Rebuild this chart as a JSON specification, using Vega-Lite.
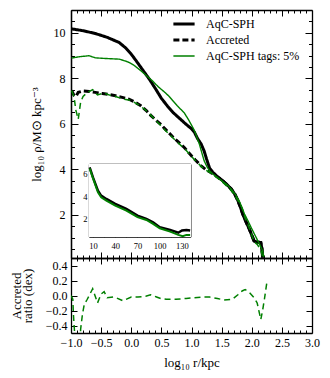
{
  "$schema": "https://vega.github.io/schema/vega-lite/v6.json",
  "padding": {"left": 10, "top": 9, "right": 5, "bottom": 5},
  "background": "white",
  "width": 241,
  "height": 323,
  "datasets": {
    "prof": [
      {"s": "AqC-SPH", "x": -0.99, "y": 10.17}, {"s": "AqC-SPH", "x": -0.8, "y": 10.09}, {"s": "AqC-SPH", "x": -0.6, "y": 9.97}, {"s": "AqC-SPH", "x": -0.4, "y": 9.8}, {"s": "AqC-SPH", "x": -0.2, "y": 9.57}, {"s": "AqC-SPH", "x": -0.1, "y": 9.35}, {"s": "AqC-SPH", "x": 0.0, "y": 9.06}, {"s": "AqC-SPH", "x": 0.1, "y": 8.7}, {"s": "AqC-SPH", "x": 0.2, "y": 8.33}, {"s": "AqC-SPH", "x": 0.3, "y": 7.96}, {"s": "AqC-SPH", "x": 0.4, "y": 7.55}, {"s": "AqC-SPH", "x": 0.5, "y": 7.12}, {"s": "AqC-SPH", "x": 0.6, "y": 6.78}, {"s": "AqC-SPH", "x": 0.7, "y": 6.48}, {"s": "AqC-SPH", "x": 0.8, "y": 6.24}, {"s": "AqC-SPH", "x": 0.9, "y": 6.0}, {"s": "AqC-SPH", "x": 1.0, "y": 5.78}, {"s": "AqC-SPH", "x": 1.05, "y": 5.62}, {"s": "AqC-SPH", "x": 1.1, "y": 5.35}, {"s": "AqC-SPH", "x": 1.16, "y": 5.11}, {"s": "AqC-SPH", "x": 1.21, "y": 4.8}, {"s": "AqC-SPH", "x": 1.25, "y": 4.45}, {"s": "AqC-SPH", "x": 1.3, "y": 4.05}, {"s": "AqC-SPH", "x": 1.35, "y": 3.88}, {"s": "AqC-SPH", "x": 1.42, "y": 3.7}, {"s": "AqC-SPH", "x": 1.52, "y": 3.49}, {"s": "AqC-SPH", "x": 1.6, "y": 3.3}, {"s": "AqC-SPH", "x": 1.66, "y": 3.13}, {"s": "AqC-SPH", "x": 1.72, "y": 2.9}, {"s": "AqC-SPH", "x": 1.77, "y": 2.62}, {"s": "AqC-SPH", "x": 1.81, "y": 2.35}, {"s": "AqC-SPH", "x": 1.85, "y": 2.03}, {"s": "AqC-SPH", "x": 1.9, "y": 1.72}, {"s": "AqC-SPH", "x": 1.96, "y": 1.37}, {"s": "AqC-SPH", "x": 2.0, "y": 1.1}, {"s": "AqC-SPH", "x": 2.04, "y": 0.84}, {"s": "AqC-SPH", "x": 2.09, "y": 0.8}, {"s": "AqC-SPH", "x": 2.15, "y": 0.78}, {"s": "AqC-SPH", "x": 2.17, "y": 0.5}, {"s": "AqC-SPH", "x": 2.18, "y": 0.12},
      {"s": "Accreted", "x": -0.99, "y": 7.46}, {"s": "Accreted", "x": -0.95, "y": 7.25}, {"s": "Accreted", "x": -0.92, "y": 7.2}, {"s": "Accreted", "x": -0.88, "y": 7.38}, {"s": "Accreted", "x": -0.8, "y": 7.44}, {"s": "Accreted", "x": -0.7, "y": 7.42}, {"s": "Accreted", "x": -0.6, "y": 7.38}, {"s": "Accreted", "x": -0.48, "y": 7.33}, {"s": "Accreted", "x": -0.36, "y": 7.28}, {"s": "Accreted", "x": -0.26, "y": 7.23}, {"s": "Accreted", "x": -0.15, "y": 7.16}, {"s": "Accreted", "x": -0.04, "y": 7.08}, {"s": "Accreted", "x": 0.06, "y": 6.95}, {"s": "Accreted", "x": 0.16, "y": 6.79}, {"s": "Accreted", "x": 0.25, "y": 6.58}, {"s": "Accreted", "x": 0.32, "y": 6.38}, {"s": "Accreted", "x": 0.4, "y": 6.18}, {"s": "Accreted", "x": 0.49, "y": 5.97}, {"s": "Accreted", "x": 0.58, "y": 5.72}, {"s": "Accreted", "x": 0.68, "y": 5.45}, {"s": "Accreted", "x": 0.78, "y": 5.2}, {"s": "Accreted", "x": 0.88, "y": 4.96}, {"s": "Accreted", "x": 0.97, "y": 4.68}, {"s": "Accreted", "x": 1.06, "y": 4.42}, {"s": "Accreted", "x": 1.16, "y": 4.15}, {"s": "Accreted", "x": 1.24, "y": 3.98}, {"s": "Accreted", "x": 1.32, "y": 3.86}, {"s": "Accreted", "x": 1.42, "y": 3.68}, {"s": "Accreted", "x": 1.52, "y": 3.49}, {"s": "Accreted", "x": 1.6, "y": 3.3}, {"s": "Accreted", "x": 1.66, "y": 3.13}, {"s": "Accreted", "x": 1.72, "y": 2.9}, {"s": "Accreted", "x": 1.77, "y": 2.62}, {"s": "Accreted", "x": 1.81, "y": 2.35}, {"s": "Accreted", "x": 1.85, "y": 2.03}, {"s": "Accreted", "x": 1.9, "y": 1.72}, {"s": "Accreted", "x": 1.96, "y": 1.37}, {"s": "Accreted", "x": 2.0, "y": 1.1}, {"s": "Accreted", "x": 2.04, "y": 0.84}, {"s": "Accreted", "x": 2.09, "y": 0.8}, {"s": "Accreted", "x": 2.15, "y": 0.78}, {"s": "Accreted", "x": 2.17, "y": 0.5}, {"s": "Accreted", "x": 2.18, "y": 0.12},
      {"s": "AqC-SPH tags: 5%", "x": -0.99, "y": 8.89}, {"s": "AqC-SPH tags: 5%", "x": -0.85, "y": 8.95}, {"s": "AqC-SPH tags: 5%", "x": -0.7, "y": 8.99}, {"s": "AqC-SPH tags: 5%", "x": -0.6, "y": 8.9}, {"s": "AqC-SPH tags: 5%", "x": -0.5, "y": 8.88}, {"s": "AqC-SPH tags: 5%", "x": -0.35, "y": 8.86}, {"s": "AqC-SPH tags: 5%", "x": -0.2, "y": 8.84}, {"s": "AqC-SPH tags: 5%", "x": -0.1, "y": 8.76}, {"s": "AqC-SPH tags: 5%", "x": -0.04, "y": 8.7}, {"s": "AqC-SPH tags: 5%", "x": 0.05, "y": 8.56}, {"s": "AqC-SPH tags: 5%", "x": 0.16, "y": 8.33}, {"s": "AqC-SPH tags: 5%", "x": 0.25, "y": 8.12}, {"s": "AqC-SPH tags: 5%", "x": 0.35, "y": 7.89}, {"s": "AqC-SPH tags: 5%", "x": 0.45, "y": 7.62}, {"s": "AqC-SPH tags: 5%", "x": 0.55, "y": 7.4}, {"s": "AqC-SPH tags: 5%", "x": 0.63, "y": 7.2}, {"s": "AqC-SPH tags: 5%", "x": 0.69, "y": 7.01}, {"s": "AqC-SPH tags: 5%", "x": 0.76, "y": 6.8}, {"s": "AqC-SPH tags: 5%", "x": 0.82, "y": 6.64}, {"s": "AqC-SPH tags: 5%", "x": 0.88, "y": 6.48}, {"s": "AqC-SPH tags: 5%", "x": 0.95, "y": 6.18}, {"s": "AqC-SPH tags: 5%", "x": 1.0, "y": 5.94}, {"s": "AqC-SPH tags: 5%", "x": 1.05, "y": 5.69}, {"s": "AqC-SPH tags: 5%", "x": 1.13, "y": 5.11}, {"s": "AqC-SPH tags: 5%", "x": 1.21, "y": 4.37}, {"s": "AqC-SPH tags: 5%", "x": 1.26, "y": 4.1}, {"s": "AqC-SPH tags: 5%", "x": 1.3, "y": 3.93}, {"s": "AqC-SPH tags: 5%", "x": 1.36, "y": 3.78}, {"s": "AqC-SPH tags: 5%", "x": 1.43, "y": 3.64}, {"s": "AqC-SPH tags: 5%", "x": 1.52, "y": 3.46}, {"s": "AqC-SPH tags: 5%", "x": 1.6, "y": 3.3}, {"s": "AqC-SPH tags: 5%", "x": 1.66, "y": 3.13}, {"s": "AqC-SPH tags: 5%", "x": 1.73, "y": 2.88}, {"s": "AqC-SPH tags: 5%", "x": 1.79, "y": 2.62}, {"s": "AqC-SPH tags: 5%", "x": 1.84, "y": 2.3}, {"s": "AqC-SPH tags: 5%", "x": 1.88, "y": 2.03}, {"s": "AqC-SPH tags: 5%", "x": 1.94, "y": 1.72}, {"s": "AqC-SPH tags: 5%", "x": 1.99, "y": 1.44}, {"s": "AqC-SPH tags: 5%", "x": 2.05, "y": 1.12}, {"s": "AqC-SPH tags: 5%", "x": 2.1, "y": 0.86}, {"s": "AqC-SPH tags: 5%", "x": 2.14, "y": 0.65}, {"s": "AqC-SPH tags: 5%", "x": 2.18, "y": 0.42}, {"s": "AqC-SPH tags: 5%", "x": 2.2, "y": 0.15},
      {"s": "tags accreted", "x": -0.99, "y": 7.46}, {"s": "tags accreted", "x": -0.95, "y": 7.2}, {"s": "tags accreted", "x": -0.92, "y": 6.6}, {"s": "tags accreted", "x": -0.88, "y": 6.2}, {"s": "tags accreted", "x": -0.84, "y": 6.95}, {"s": "tags accreted", "x": -0.8, "y": 7.2}, {"s": "tags accreted", "x": -0.73, "y": 7.37}, {"s": "tags accreted", "x": -0.64, "y": 7.5}, {"s": "tags accreted", "x": -0.56, "y": 7.27}, {"s": "tags accreted", "x": -0.45, "y": 7.35}, {"s": "tags accreted", "x": -0.36, "y": 7.26}, {"s": "tags accreted", "x": -0.26, "y": 7.2}, {"s": "tags accreted", "x": -0.14, "y": 7.09}, {"s": "tags accreted", "x": 0.0, "y": 7.02}, {"s": "tags accreted", "x": 0.11, "y": 6.85}, {"s": "tags accreted", "x": 0.24, "y": 6.6}, {"s": "tags accreted", "x": 0.32, "y": 6.39}, {"s": "tags accreted", "x": 0.42, "y": 6.11}, {"s": "tags accreted", "x": 0.49, "y": 5.93}, {"s": "tags accreted", "x": 0.58, "y": 5.67}, {"s": "tags accreted", "x": 0.74, "y": 5.25}, {"s": "tags accreted", "x": 0.91, "y": 4.84}, {"s": "tags accreted", "x": 1.05, "y": 4.42}, {"s": "tags accreted", "x": 1.19, "y": 4.05}, {"s": "tags accreted", "x": 1.3, "y": 3.86}, {"s": "tags accreted", "x": 1.43, "y": 3.62}, {"s": "tags accreted", "x": 1.54, "y": 3.38}, {"s": "tags accreted", "x": 1.68, "y": 3.0}, {"s": "tags accreted", "x": 1.77, "y": 2.63}, {"s": "tags accreted", "x": 1.84, "y": 2.3}, {"s": "tags accreted", "x": 1.89, "y": 1.85}, {"s": "tags accreted", "x": 1.96, "y": 1.41}, {"s": "tags accreted", "x": 2.04, "y": 0.81}, {"s": "tags accreted", "x": 2.09, "y": 0.7}, {"s": "tags accreted", "x": 2.15, "y": 0.46}, {"s": "tags accreted", "x": 2.18, "y": 0.15}
    ],
    "ratio": [
      {"x": -1.0, "y": 0.0}, {"x": -0.97, "y": -0.05}, {"x": -0.96, "y": -0.25}, {"x": -0.94, "y": -0.5}, {"x": -0.88, "y": -1.1}, {"x": -0.84, "y": -0.45}, {"x": -0.81, "y": -0.25}, {"x": -0.78, "y": -0.12}, {"x": -0.73, "y": -0.05}, {"x": -0.64, "y": 0.09}, {"x": -0.56, "y": -0.1}, {"x": -0.5, "y": 0.02}, {"x": -0.45, "y": 0.05}, {"x": -0.4, "y": -0.03}, {"x": -0.3, "y": -0.02}, {"x": -0.25, "y": -0.03}, {"x": -0.14, "y": -0.07}, {"x": 0.0, "y": -0.02}, {"x": 0.11, "y": -0.02}, {"x": 0.24, "y": -0.01}, {"x": 0.32, "y": 0.01}, {"x": 0.42, "y": -0.02}, {"x": 0.49, "y": -0.04}, {"x": 0.58, "y": -0.05}, {"x": 0.74, "y": -0.05}, {"x": 0.91, "y": -0.04}, {"x": 1.05, "y": -0.03}, {"x": 1.19, "y": -0.02}, {"x": 1.3, "y": -0.02}, {"x": 1.43, "y": -0.04}, {"x": 1.54, "y": -0.06}, {"x": 1.68, "y": -0.05}, {"x": 1.77, "y": 0.01}, {"x": 1.84, "y": 0.06}, {"x": 1.89, "y": 0.08}, {"x": 1.96, "y": 0.04}, {"x": 2.04, "y": -0.03}, {"x": 2.09, "y": -0.1}, {"x": 2.15, "y": -0.32}, {"x": 2.18, "y": -0.2}, {"x": 2.21, "y": -0.05}, {"x": 2.25, "y": 0.17}
    ],
    "inset": [
      {"s": "AqC-SPH", "r": 5.5, "y": 6.6}, {"s": "AqC-SPH", "r": 10, "y": 5.7}, {"s": "AqC-SPH", "r": 16.7, "y": 4.5}, {"s": "AqC-SPH", "r": 21, "y": 4.05}, {"s": "AqC-SPH", "r": 28, "y": 3.75}, {"s": "AqC-SPH", "r": 40, "y": 3.3}, {"s": "AqC-SPH", "r": 55, "y": 2.85}, {"s": "AqC-SPH", "r": 70, "y": 2.25}, {"s": "AqC-SPH", "r": 82, "y": 1.95}, {"s": "AqC-SPH", "r": 91, "y": 1.65}, {"s": "AqC-SPH", "r": 100, "y": 1.2}, {"s": "AqC-SPH", "r": 114, "y": 0.95}, {"s": "AqC-SPH", "r": 125, "y": 0.7}, {"s": "AqC-SPH", "r": 130, "y": 0.9}, {"s": "AqC-SPH", "r": 136, "y": 0.95}, {"s": "AqC-SPH", "r": 141, "y": 0.9},
      {"s": "AqC-SPH tags: 5%", "r": 5.5, "y": 6.5}, {"s": "AqC-SPH tags: 5%", "r": 10, "y": 5.6}, {"s": "AqC-SPH tags: 5%", "r": 16.7, "y": 4.35}, {"s": "AqC-SPH tags: 5%", "r": 21, "y": 3.9}, {"s": "AqC-SPH tags: 5%", "r": 28, "y": 3.6}, {"s": "AqC-SPH tags: 5%", "r": 40, "y": 3.15}, {"s": "AqC-SPH tags: 5%", "r": 55, "y": 2.7}, {"s": "AqC-SPH tags: 5%", "r": 70, "y": 2.1}, {"s": "AqC-SPH tags: 5%", "r": 82, "y": 1.85}, {"s": "AqC-SPH tags: 5%", "r": 91, "y": 1.5}, {"s": "AqC-SPH tags: 5%", "r": 100, "y": 1.1}, {"s": "AqC-SPH tags: 5%", "r": 114, "y": 0.8}, {"s": "AqC-SPH tags: 5%", "r": 125, "y": 0.5}, {"s": "AqC-SPH tags: 5%", "r": 131, "y": 0.38}, {"s": "AqC-SPH tags: 5%", "r": 136, "y": 0.5}, {"s": "AqC-SPH tags: 5%", "r": 141, "y": 0.5}
    ]
  },
  "resolve": {"scale": {"x": "independent", "y": "independent"}, "axis": {"x": "independent", "y": "independent"}},
  "layer": [
    {
      "resolve": {"scale": {"y": "independent"}, "axis": {"x": "independent", "y": "independent"}},
      "layer": [
        {
          "resolve": {"axis": {"x": "independent", "y": "independent"}},
          "layer": [
            {
              "mark": {"type": "rule", "color": "#b8b8b8", "strokeDash": [1.5, 3], "strokeWidth": 1},
              "encoding": {"x": {"datum": -0.14, "type": "quantitative", "scale": {"domain": [-1, 3], "nice": false, "zero": false},
                "axis": {"orient": "bottom", "offset": -75, "title": null, "labels": false, "values": [-1,-0.9,-0.8,-0.7,-0.6,-0.5,-0.4,-0.3,-0.2,-0.1,0,0.1,0.2,0.3,0.4,0.5,0.6,0.7,0.8,0.9,1,1.1,1.2,1.3,1.4,1.5,1.6,1.7,1.8,1.9,2,2.1,2.2,2.3,2.4,2.5,2.6,2.7,2.8,2.9,3],
                  "tickSize": {"condition": {"test": "abs(datum.value*2 - round(datum.value*2)) < 0.01", "value": -6}, "value": -3}}}}
            },
            {
              "data": {"name": "prof"},
              "transform": [{"filter": "datum.s == 'AqC-SPH'"}],
              "mark": {"type": "line", "clip": true, "strokeWidth": 3},
              "encoding": {
                "x": {"field": "x", "type": "quantitative", "scale": {"domain": [-1, 3], "nice": false, "zero": false},
                  "axis": {"orient": "top", "title": null, "labels": false, "values": [-1,-0.9,-0.8,-0.7,-0.6,-0.5,-0.4,-0.3,-0.2,-0.1,0,0.1,0.2,0.3,0.4,0.5,0.6,0.7,0.8,0.9,1,1.1,1.2,1.3,1.4,1.5,1.6,1.7,1.8,1.9,2,2.1,2.2,2.3,2.4,2.5,2.6,2.7,2.8,2.9,3],
                    "tickSize": {"condition": {"test": "abs(datum.value*2 - round(datum.value*2)) < 0.01", "value": -6}, "value": -3}}},
                "y": {"field": "y", "type": "quantitative", "scale": {"domain": [0.1, 11], "range": [248, 0], "nice": false, "zero": false},
                  "axis": {"orient": "left", "title": "log₁₀ ρ/M⊙ kpc⁻³", "values": [2, 4, 6, 8, 10], "format": "d", "ticks": false, "labelPadding": 6, "titlePadding": 10}},
                "color": {"field": "s", "type": "nominal", "scale": {"domain": ["AqC-SPH", "Accreted", "AqC-SPH tags: 5%"], "range": ["black", "black", "#008000"]},
                  "legend": {"title": null, "orient": "none", "legendX": 107, "legendY": 8, "rowPadding": 4, "labelOffset": 16, "symbolSize": 450, "encode": {"symbols": {"update": {"strokeWidth": {"signal": "datum.value === 'AqC-SPH tags: 5%' ? 1.4 : 3"}}}}}},
                "strokeDash": {"field": "s", "type": "nominal", "scale": {"domain": ["AqC-SPH", "Accreted", "AqC-SPH tags: 5%"], "range": [[1, 0], [6, 3], [1, 0]]},
                  "legend": {"title": null, "orient": "none", "legendX": 107, "legendY": 8, "rowPadding": 4, "labelOffset": 16, "symbolSize": 450, "encode": {"symbols": {"update": {"strokeWidth": {"signal": "datum.value === 'AqC-SPH tags: 5%' ? 1.4 : 3"}}}}}}
              }
            },
            {
              "data": {"name": "prof"},
              "transform": [{"filter": "datum.s == 'Accreted'"}],
              "mark": {"type": "line", "clip": true, "strokeWidth": 3},
              "encoding": {
                "x": {"field": "x", "type": "quantitative", "scale": {"domain": [-1, 3], "nice": false, "zero": false}, "axis": null},
                "y": {"field": "y", "type": "quantitative", "scale": {"domain": [0.1, 11], "range": [248, 0], "nice": false, "zero": false},
                  "axis": {"orient": "right", "title": null, "labels": false, "values": [0.5,1,1.5,2,2.5,3,3.5,4,4.5,5,5.5,6,6.5,7,7.5,8,8.5,9,9.5,10,10.5],
                    "tickSize": {"condition": {"test": "abs(datum.value/2 - round(datum.value/2)) < 0.01", "value": -7}, "value": -3.5}}},
                "color": {"field": "s", "type": "nominal", "scale": {"domain": ["AqC-SPH", "Accreted", "AqC-SPH tags: 5%"], "range": ["black", "black", "#008000"]},
                  "legend": {"title": null, "orient": "none", "legendX": 107, "legendY": 8, "rowPadding": 4, "labelOffset": 16, "symbolSize": 450, "encode": {"symbols": {"update": {"strokeWidth": {"signal": "datum.value === 'AqC-SPH tags: 5%' ? 1.4 : 3"}}}}}},
                "strokeDash": {"field": "s", "type": "nominal", "scale": {"domain": ["AqC-SPH", "Accreted", "AqC-SPH tags: 5%"], "range": [[1, 0], [6, 3], [1, 0]]},
                  "legend": {"title": null, "orient": "none", "legendX": 107, "legendY": 8, "rowPadding": 4, "labelOffset": 16, "symbolSize": 450, "encode": {"symbols": {"update": {"strokeWidth": {"signal": "datum.value === 'AqC-SPH tags: 5%' ? 1.4 : 3"}}}}}}
              }
            },
            {
              "data": {"name": "prof"},
              "transform": [{"filter": "datum.s == 'AqC-SPH tags: 5%'"}],
              "mark": {"type": "line", "clip": true, "strokeWidth": 1.4},
              "encoding": {
                "x": {"field": "x", "type": "quantitative", "scale": {"domain": [-1, 3], "nice": false, "zero": false}, "axis": null},
                "y": {"field": "y", "type": "quantitative", "scale": {"domain": [0.1, 11], "range": [248, 0], "nice": false, "zero": false},
                  "axis": {"orient": "left", "title": null, "labels": false, "values": [0.5,1,1.5,2,2.5,3,3.5,4,4.5,5,5.5,6,6.5,7,7.5,8,8.5,9,9.5,10,10.5],
                    "tickSize": {"condition": {"test": "abs(datum.value/2 - round(datum.value/2)) < 0.01", "value": -7}, "value": -3.5}}},
                "color": {"field": "s", "type": "nominal", "scale": {"domain": ["AqC-SPH", "Accreted", "AqC-SPH tags: 5%"], "range": ["black", "black", "#008000"]},
                  "legend": {"title": null, "orient": "none", "legendX": 107, "legendY": 8, "rowPadding": 4, "labelOffset": 16, "symbolSize": 450, "encode": {"symbols": {"update": {"strokeWidth": {"signal": "datum.value === 'AqC-SPH tags: 5%' ? 1.4 : 3"}}}}}},
                "strokeDash": {"field": "s", "type": "nominal", "scale": {"domain": ["AqC-SPH", "Accreted", "AqC-SPH tags: 5%"], "range": [[1, 0], [6, 3], [1, 0]]},
                  "legend": {"title": null, "orient": "none", "legendX": 107, "legendY": 8, "rowPadding": 4, "labelOffset": 16, "symbolSize": 450, "encode": {"symbols": {"update": {"strokeWidth": {"signal": "datum.value === 'AqC-SPH tags: 5%' ? 1.4 : 3"}}}}}}
              }
            },
            {
              "data": {"name": "prof"},
              "transform": [{"filter": "datum.s == 'tags accreted'"}],
              "mark": {"type": "line", "clip": true, "color": "#008000", "strokeDash": [6, 4], "strokeWidth": 1.5},
              "encoding": {
                "x": {"field": "x", "type": "quantitative", "scale": {"domain": [-1, 3], "nice": false, "zero": false}, "axis": null},
                "y": {"field": "y", "type": "quantitative", "scale": {"domain": [0.1, 11], "range": [248, 0], "nice": false, "zero": false}, "axis": null}
              }
            }
          ]
        },
        {
          "resolve": {"axis": {"x": "independent", "y": "independent"}},
          "layer": [
            {
              "mark": {"type": "rule", "color": "#b8b8b8", "strokeDash": [1.5, 3], "strokeWidth": 1},
              "encoding": {"y": {"datum": 0, "type": "quantitative", "scale": {"domain": [-0.5, 0.5], "range": [323, 248], "nice": false, "zero": false},
                "axis": {"orient": "right", "title": null, "labels": false, "values": [-0.4,-0.2,0,0.2,0.4], "tickSize": -6}}}
            },
            {
              "mark": {"type": "rule", "color": "#b8b8b8", "strokeDash": [1.5, 3], "strokeWidth": 1},
              "encoding": {"y": {"datum": 0, "type": "quantitative", "scale": {"domain": [-0.5, 0.5], "range": [323, 248], "nice": false, "zero": false},
                "axis": {"orient": "left", "title": null, "labels": false, "values": [-0.4,-0.2,0,0.2,0.4], "tickSize": -6}}}
            },
            {
              "mark": {"type": "rule", "color": "#b8b8b8", "strokeDash": [1.5, 3], "strokeWidth": 1},
              "encoding": {"x": {"datum": -0.14, "type": "quantitative", "scale": {"domain": [-1, 3], "nice": false, "zero": false},
                "axis": {"orient": "top", "offset": -248, "title": null, "labels": false, "values": [-1,-0.9,-0.8,-0.7,-0.6,-0.5,-0.4,-0.3,-0.2,-0.1,0,0.1,0.2,0.3,0.4,0.5,0.6,0.7,0.8,0.9,1,1.1,1.2,1.3,1.4,1.5,1.6,1.7,1.8,1.9,2,2.1,2.2,2.3,2.4,2.5,2.6,2.7,2.8,2.9,3],
                  "tickSize": {"condition": {"test": "abs(datum.value*2 - round(datum.value*2)) < 0.01", "value": -6}, "value": -3}}}}
            },
            {
              "mark": {"type": "rule", "color": "#b8b8b8", "strokeDash": [1.5, 3], "strokeWidth": 1},
              "encoding": {"x": {"datum": -0.14, "type": "quantitative", "scale": {"domain": [-1, 3], "nice": false, "zero": false},
                "axis": {"orient": "bottom", "title": null, "labels": false, "values": [-1,-0.9,-0.8,-0.7,-0.6,-0.5,-0.4,-0.3,-0.2,-0.1,0,0.1,0.2,0.3,0.4,0.5,0.6,0.7,0.8,0.9,1,1.1,1.2,1.3,1.4,1.5,1.6,1.7,1.8,1.9,2,2.1,2.2,2.3,2.4,2.5,2.6,2.7,2.8,2.9,3],
                  "tickSize": {"condition": {"test": "abs(datum.value*2 - round(datum.value*2)) < 0.01", "value": -6}, "value": -3}}}}
            },
            {
              "data": {"name": "ratio"},
              "mark": {"type": "line", "color": "#008000", "strokeDash": [6, 4], "strokeWidth": 1.5, "clip": true},
              "encoding": {
                "x": {"field": "x", "type": "quantitative", "scale": {"domain": [-1, 3], "nice": false, "zero": false},
                  "axis": {"orient": "bottom", "title": "log₁₀ r/kpc", "values": [-1,-0.5,0,0.5,1,1.5,2,2.5,3], "format": ".1f", "ticks": false, "domain": false, "labelPadding": 4, "titlePadding": 8}},
                "y": {"field": "y", "type": "quantitative", "scale": {"domain": [-0.5, 0.5], "range": [323, 248], "nice": false, "zero": false},
                  "axis": {"orient": "left", "title": ["Accreted", "ratio (dex)"], "values": [-0.4,-0.2,0,0.2,0.4], "format": ".1f", "ticks": false, "domain": false, "labelPadding": 4, "titlePadding": 11}}
              }
            }
          ]
        }
      ]
    },
    {
      "resolve": {"axis": {"x": "independent", "y": "independent"}},
      "data": {"name": "inset"},
      "layer": [
        {
          "mark": {"type": "rect", "fill": "white"},
          "encoding": {
            "x": {"datum": 4.6, "type": "quantitative", "scale": {"domain": [4.6, 141.2], "range": [18, 119.3], "nice": false, "zero": false},
              "axis": {"orient": "bottom", "offset": -96.3, "title": null, "labels": false, "values": [10,25,40,55,70,85,100,115,130], "tickSize": -3}},
            "x2": {"datum": 141.2},
            "y": {"datum": 0.34, "type": "quantitative", "scale": {"domain": [0.34, 6.9], "range": [226.7, 154], "nice": false, "zero": false},
              "axis": {"orient": "left", "offset": -18, "title": null, "labels": false, "values": [1,2,3,4,5,6], "tickSize": -3}},
            "y2": {"datum": 6.9}
          }
        },
        {
          "transform": [{"filter": "datum.s == 'AqC-SPH'"}],
          "mark": {"type": "line", "color": "black", "strokeWidth": 2.4, "clip": true},
          "encoding": {
            "x": {"field": "r", "type": "quantitative", "scale": {"domain": [4.6, 141.2], "range": [18, 119.3], "nice": false, "zero": false},
              "axis": {"orient": "bottom", "offset": -96.3, "title": null, "domain": false, "ticks": false, "values": [10,40,70,100,130], "labelFontSize": 8.5, "labelPadding": 5}},
            "y": {"field": "y", "type": "quantitative", "scale": {"domain": [0.34, 6.9], "range": [226.7, 154], "nice": false, "zero": false},
              "axis": {"orient": "left", "offset": -18, "title": null, "domain": false, "ticks": false, "values": [2,4,6], "labelFontSize": 8.5, "labelPadding": 2}}
          }
        },
        {
          "transform": [{"filter": "datum.s == 'AqC-SPH tags: 5%'"}],
          "mark": {"type": "line", "color": "#008000", "strokeWidth": 2, "clip": true},
          "encoding": {
            "x": {"field": "r", "type": "quantitative", "scale": {"domain": [4.6, 141.2], "range": [18, 119.3], "nice": false, "zero": false},
              "axis": {"orient": "top", "offset": -154, "title": null, "labels": false, "values": [10,25,40,55,70,85,100,115,130], "tickSize": -3}},
            "y": {"field": "y", "type": "quantitative", "scale": {"domain": [0.34, 6.9], "range": [226.7, 154], "nice": false, "zero": false},
              "axis": {"orient": "right", "offset": -121.7, "title": null, "labels": false, "values": [1,2,3,4,5,6], "tickSize": -3}}
          }
        }
      ]
    }
  ],
  "config": {
    "font": "Liberation Serif",
    "view": {"stroke": null},
    "axis": {
      "domainColor": "black", "domainWidth": 1.3, "tickColor": "black", "tickWidth": 1,
      "labelColor": "black", "titleColor": "black", "labelFont": "Liberation Serif", "titleFont": "Liberation Serif",
      "labelFontSize": 12, "titleFontSize": 13, "titleFontWeight": "normal", "grid": false, "labelFlush": false, "labelOverlap": false, "titleLineHeight": 11
    },
    "legend": {
      "padding": 0, "labelFont": "Liberation Serif", "labelFontSize": 12, "labelColor": "black",
      "symbolType": "stroke", "symbolStrokeColor": "black"
    }
  }
}
